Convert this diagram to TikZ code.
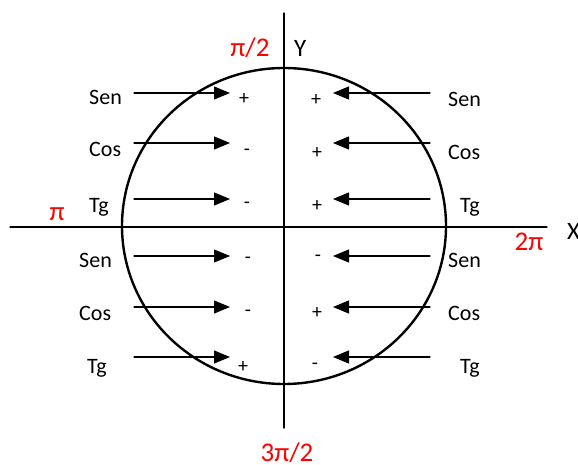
\documentclass[tikz,border=0pt]{standalone}
\usepackage{fontspec}
\setmainfont{Carlito}
\usetikzlibrary{arrows.meta}

\begin{document}
\begin{tikzpicture}[x=1pt,y=-1pt,line cap=round,line join=round,
  lbl/.style={anchor=base west,inner sep=0pt,font=\fontsize{22}{24}\selectfont},
  axl/.style={anchor=base west,inner sep=0pt,font=\fontsize{25}{28}\selectfont},
  sgn/.style={inner sep=0pt,font=\fontsize{20}{22}\selectfont},
  ang/.style={anchor=base,inner sep=0pt,text=red,font=\fontsize{27}{30}\selectfont},
  ptr/.style={line width=1.2pt,-{Triangle[length=16pt,width=13pt]}}]
  \useasboundingbox (0,0) rectangle (578,465);
  % axes
  \coordinate (xl) at (10,227);
  \coordinate (xr) at (547,227);
  \coordinate (yt) at (284,13);
  \coordinate (yb) at (284,428);
  \draw[line width=1.2pt] (xl) -- (xr);
  \draw[line width=1.2pt] (yt) -- (yb);
  \draw[line width=2.4pt] (284,226) ellipse [x radius=162,y radius=158];
  % left side
  \foreach \n/\t/\x/\y/\s/\sx/\sy in {1/Sen/89/105/+/244/99, 2/Cos/89/157/-/247/152,
      3/Tg/89/213/-/247/205, 4/Sen/79/267/-/248/260, 5/Cos/79/320/-/248/313, 6/Tg/87/373/+/243/367} {
    \node[lbl] (l\n) at (\x,\y) {\t};
    \node[sgn] (ls\n) at (\sx,\sy) {\s};
  }
  \foreach \n/\y in {1/93,2/143,3/199,4/256,5/307,6/357} {
    \coordinate (la\n) at (134,\y);
    \coordinate (lb\n) at (230,\y);
    \draw[ptr] (la\n) -- (lb\n);
  }
  % right side
  \foreach \n/\t/\x/\y/\s/\sx/\sy in {1/Sen/448/107/+/316/100, 2/Cos/448/160/+/317/153,
      3/Tg/460/213/+/317/206, 4/Sen/448/267/-/318/258, 5/Cos/448/320/+/317/313, 6/Tg/460/373/-/315/366} {
    \node[lbl] (r\n) at (\x,\y) {\t};
    \node[sgn] (rs\n) at (\sx,\sy) {\s};
  }
  \foreach \n/\y in {1/93,2/143,3/199,4/256,5/307,6/357} {
    \coordinate (ra\n) at (430,\y);
    \coordinate (rb\n) at (333,\y);
    \draw[ptr] (ra\n) -- (rb\n);
  }
  % angles
  \node[ang] (half) at (250,57) {π/2};
  \node[ang] (pi) at (57,221) {π};
  \node[ang] (twopi) at (529,251) {2π};
  \node[ang] (threehalf) at (287,461) {3π/2};
  \node[axl] (ylab) at (294,57) {Y};
  \node[axl] (xlab) at (567,240) {X};
\end{tikzpicture}
\end{document}
